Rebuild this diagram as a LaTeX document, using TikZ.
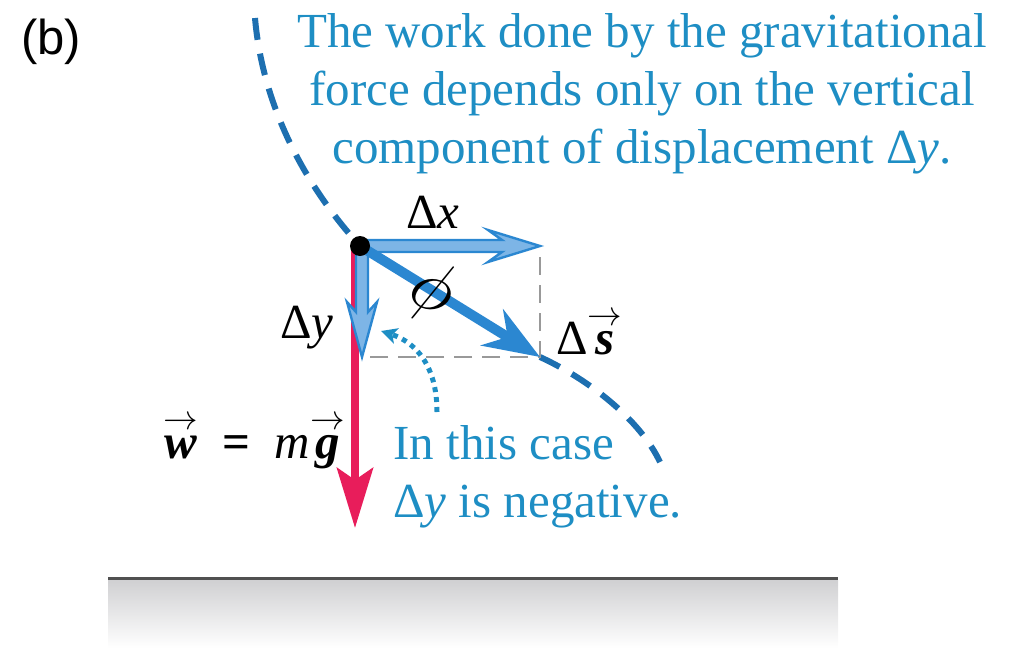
\documentclass[tikz,border=0pt]{standalone}
\usepackage{amsmath}
\usepackage{fontspec}
\setmainfont{Liberation Serif}
\newfontfamily\partfont{Liberation Sans}
\usepackage{tikz}
\usetikzlibrary{arrows.meta,positioning,calc}
\definecolor{pathblue}{HTML}{1D6FB0}
\definecolor{vecblue}{HTML}{2B87D1}
\definecolor{veclight}{HTML}{7DB5E6}
\definecolor{noteblue}{HTML}{1E8EC4}
\definecolor{wred}{HTML}{E81D5B}
\definecolor{boxgray}{HTML}{999999}
\definecolor{groundgray}{HTML}{505050}
\definecolor{groundtop}{HTML}{D0D0D2}
\newcommand{\bivec}[1]{\ensuremath{\overset{\raisebox{-4pt}{$\scriptstyle\rightarrow$}}{\text{\bfseries\itshape #1}}}}
\tikzset{
  gravnote/.style={text=noteblue,font=\fontsize{24.5}{29}\selectfont,inner sep=0pt},
  gravlabel/.style={font=\fontsize{24.5}{29}\selectfont,inner sep=0pt},
  pathdash/.style={draw=pathblue,line width=3pt,dash pattern=on 11pt off 7pt},
  compvec/.style={draw=vecblue,fill=veclight,line width=1.2pt,line join=miter},
  dispvec/.style={draw=vecblue,line width=5pt,-{Stealth[length=28pt,width=21pt,inset=9pt]}},
  weightvec/.style={draw=wred,line width=4pt,-{Stealth[length=30pt,width=18pt,inset=6pt]}},
  projline/.style={draw=boxgray,line width=1.2pt,dash pattern=on 9pt off 5pt},
  hintarrow/.style={draw=noteblue,line width=2.5pt,dash pattern=on 2.5pt off 2.5pt,-{Stealth[length=8pt,width=8pt,inset=2pt]}}
}
\begin{document}
\begin{tikzpicture}[x={(0.5pt,0)},y={(0,-0.5pt)}]
\useasboundingbox (0,0) rectangle (1011,648);
% ground
\shade[top color=groundtop,bottom color=white] (108,580) rectangle (838,648);
\draw[groundgray,line width=1.5pt] (108,578) -- (838,578);
% points
\coordinate (p) at (360,246);
\coordinate (dx) at (540,246);
\coordinate (dy) at (362,357);
\coordinate (ds) at (540,357);
\coordinate (top) at (255,18);
\coordinate (bot) at (660,462);
% path of the body
\draw[pathdash] (top) .. controls (262,100) and (300,180) .. (p);
\draw[pathdash] (ds) .. controls (590,380) and (640,420) .. (bot);
% projections
\draw[projline] (540,257) -- (ds) -- (365,357);
% weight
\draw[weightvec] (355,250) -- (355,528);
% components and displacement
\draw[compvec] (367,240) -- (502,240) -- (488,230) -- (dx) -- (488,262) -- (502,252) -- (367,252) -- cycle;
\draw[compvec] (356,252) -- (356,312) -- (347,302) -- (dy) -- (377,302) -- (368,312) -- (368,252) -- cycle;
\draw[dispvec] (p) -- (ds);
\node[circle,fill=black,minimum size=10pt,inner sep=0pt] (m) at (p) {};
% labels
\node[gravlabel,anchor=base west] (lx) at (406,228) {Δ\textit{x}};
\node[gravlabel,anchor=base west] (ly) at (280,338) {Δ\textit{y}};
\node[gravlabel,anchor=base west] (ls) at (556,354) {Δ\bivec{s}};
\node[gravlabel,rotate=-25] (phi) at (432,292) {\scalebox{1.45}{$\phi$}};
\node[gravlabel,anchor=base west] (lw) at (163,458) {\bivec{w}\enspace{\bfseries =}\enspace\textit{m}\bivec{g}};
\node[font=\partfont\fontsize{24.5}{28}\selectfont,inner sep=0pt] (part) at (51,42) {(b)};
% notes
\node[gravnote,align=center,anchor=north] (work) at (642,13) {The work done by the gravitational\\force depends only on the vertical\\component of displacement Δ\textit{y}.};
\node[gravnote,align=left,anchor=north west] (case) at (393,425) {In this case\\Δ\textit{y} is negative.};
\coordinate (hint) at (437,412);
\draw[hintarrow] (hint) .. controls (437,365) and (415,342) .. (381,331);
\end{tikzpicture}
\end{document}
